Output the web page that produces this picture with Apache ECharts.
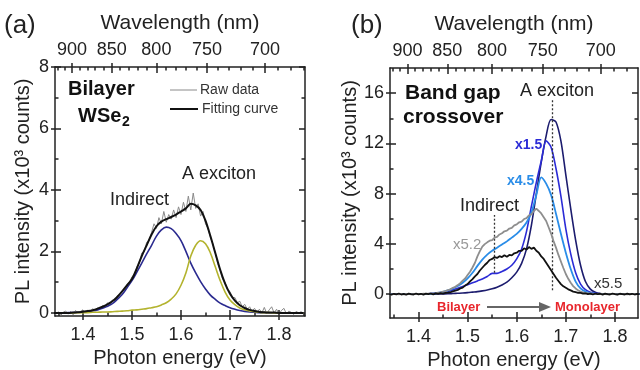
<!DOCTYPE html>
<html><head><meta charset="utf-8">
<script src="https://cdn.jsdelivr.net/npm/echarts@6/dist/echarts.min.js"></script>
<style>html,body{margin:0;padding:0;background:#fff}#c{width:640px;height:370px}</style>
</head><body><div id="c"></div>
<script>
const FONT = '"Liberation Sans", Arial, Helvetica, sans-serif';
const HC = 1239.84;

// ---- energy sampling (eV) ----
const eCoarse = [1.34,1.35,1.36,1.37,1.38,1.39,1.40,1.41,1.42,1.43,
  1.44,1.45,1.46,1.47,1.48,1.49,1.50,1.51,1.52,1.53,
  1.54,1.55,1.56,1.57,1.58,1.59,1.60,1.61,1.62,1.63,
  1.64,1.65,1.66,1.67,1.68,1.69,1.70,1.71,1.72,1.73,
  1.74,1.75,1.76,1.77,1.78,1.79,1.80,1.81,1.82,1.83,
  1.84,1.85];
const eFine = [1.340,1.345,1.350,1.355,1.360,1.365,1.370,1.375,1.380,1.385,
  1.390,1.395,1.400,1.405,1.410,1.415,1.420,1.425,1.430,1.435,
  1.440,1.445,1.450,1.455,1.460,1.465,1.470,1.475,1.480,1.485,
  1.490,1.495,1.500,1.505,1.510,1.515,1.520,1.525,1.530,1.535,
  1.540,1.545,1.550,1.555,1.560,1.565,1.570,1.575,1.580,1.585,
  1.590,1.595,1.600,1.605,1.610,1.615,1.620,1.625,1.630,1.635,
  1.640,1.645,1.650,1.655,1.660,1.665,1.670,1.675,1.680,1.685,
  1.690,1.695,1.700,1.705,1.710,1.715,1.720,1.725,1.730,1.735,
  1.740,1.745,1.750,1.755,1.760,1.765,1.770,1.775,1.780,1.785,
  1.790,1.795,1.800,1.805,1.810,1.815,1.820,1.825,1.830,1.835,
  1.840,1.845,1.850];

// ---- panel (a): bilayer WSe2 (x10^3 counts) ----
const aRaw = [0.02,-0.05,0.04,-0.08,0.03,0.06,-0.04,0.05,-0.06,0.08,
  0.0,0.05,0.1,0.02,0.09,0.04,0.14,0.06,0.17,0.12,
  0.24,0.2,0.33,0.28,0.42,0.4,0.56,0.6,0.72,0.78,
  0.95,1.0,1.18,1.25,1.5,1.62,1.95,1.98,2.3,2.35,
  2.62,2.9,2.75,3.1,2.9,3.3,2.95,3.2,3.05,3.35,
  3.1,3.45,3.2,3.6,3.3,3.8,3.35,3.9,3.4,3.55,
  3.15,3.3,2.9,2.75,2.45,2.25,1.95,1.6,1.4,1.1,
  1.0,0.75,0.7,0.5,0.5,0.33,0.38,0.2,0.28,0.12,
  0.2,0.05,0.15,0.02,0.12,0.0,0.18,-0.02,0.1,0.2,
  0.0,0.12,-0.04,0.08,0.15,-0.03,0.06,0.02,-0.05,0.05,
  0.0,0.04,-0.02];
const aFit = [0,0,0,0,0.01,0.02,0.04,0.06,0.09,0.14,
  0.2,0.28,0.38,0.52,0.7,0.9,1.1,1.45,1.85,2.2,
  2.55,2.82,2.97,3.05,3.12,3.2,3.3,3.4,3.55,3.5,
  3.35,3.0,2.5,1.95,1.4,0.95,0.62,0.4,0.25,0.16,
  0.1,0.06,0.03,0.02,0.01,0.01,0,0,0,0,
  0,0];
const aIndirect = [0,0,0,0.01,0.01,0.02,0.03,0.05,0.07,0.1,
  0.15,0.22,0.3,0.44,0.6,0.82,1.05,1.33,1.62,1.92,
  2.2,2.5,2.7,2.79,2.74,2.58,2.35,2.0,1.62,1.3,
  1.02,0.78,0.58,0.44,0.32,0.24,0.17,0.12,0.08,0.05,
  0.03,0.02,0.01,0.01,0,0,0,0,0,0,
  0,0];
const aExciton = [0,0,0,0,0,0.01,0.01,0.01,0.02,0.02,
  0.03,0.03,0.04,0.05,0.06,0.07,0.09,0.1,0.12,0.14,
  0.17,0.2,0.26,0.33,0.45,0.62,0.9,1.3,1.85,2.2,
  2.35,2.25,1.95,1.5,1.05,0.68,0.42,0.27,0.16,0.1,
  0.06,0.04,0.02,0.01,0.01,0,0,0,0,0,
  0,0];

// ---- panel (b): band gap crossover (scaled spectra) ----
const bMono = [0,0,0,0,0,0,0,0,0,0,
  0.01,0.02,0.03,0.05,0.07,0.09,0.12,0.16,0.2,0.26,
  0.33,0.42,0.55,0.72,0.95,1.3,1.75,2.45,3.6,5.5,
  8.0,10.5,12.6,13.9,13.7,12.2,9.5,6.8,4.3,2.3,
  1.0,0.4,0.15,0.05,0.02,0,0,0,0,0,
  0,0];
const bX15 = [0,0,0,0,0,0,0,0,0.03,0.06,
  0.1,0.16,0.24,0.34,0.46,0.6,0.75,0.9,1.05,1.2,
  1.4,1.65,1.65,1.8,2.0,2.3,2.8,3.6,5.0,7.0,
  8.9,10.6,12.2,11.7,10.0,7.8,5.2,3.2,1.7,0.8,
  0.35,0.15,0.06,0.02,0,0,0,0,0,0,
  0,0];
const bX45 = [0,0,0,0,0,0,0,0,0,0.04,
  0.1,0.18,0.3,0.45,0.65,0.9,1.25,1.7,2.25,2.75,
  3.15,3.45,3.7,3.95,4.2,4.5,4.8,5.2,5.7,6.5,
  7.9,9.3,8.8,7.9,6.4,4.8,3.3,2.0,1.0,0.45,
  0.2,0.08,0.03,0,0,0,0,0,0,0,
  0,0];
const bX52 = [0.01,-0.02,0.02,0,-0.01,0.02,-0.02,0.01,0.02,-0.01,
  0.01,0.0,0.02,0.0,0.03,0.02,0.04,0.05,0.06,0.08,
  0.12,0.14,0.2,0.24,0.32,0.38,0.5,0.58,0.72,0.88,
  1.08,1.25,1.52,1.78,2.12,2.5,3.0,3.42,3.78,3.98,
  4.12,4.25,4.3,4.5,4.55,4.75,4.85,5.0,5.05,5.22,
  5.28,5.48,5.55,5.72,5.78,5.98,6.05,6.28,6.35,6.62,
  6.8,6.62,6.42,6.12,5.82,5.32,4.82,4.22,3.7,3.12,
  2.6,2.08,1.6,1.22,0.9,0.64,0.45,0.3,0.2,0.14,
  0.1,0.07,0.05,0.03,0.02,0.01,0.02,0,0.01,-0.01,
  0.01,0,0.01,-0.01,0.01,0,0.01,-0.01,0.01,0,
  0.01,-0.01,0];
const bX55 = [0.02,-0.04,0.03,-0.02,0.05,-0.03,0.02,-0.05,0.04,0.0,
  -0.03,0.05,-0.02,0.03,-0.04,0.04,0.0,0.05,-0.02,0.06,
  0.02,0.08,0.04,0.1,0.12,0.15,0.22,0.28,0.34,0.45,
  0.52,0.68,0.8,1.02,1.2,1.42,1.6,1.88,2.1,2.32,
  2.5,2.72,2.8,2.95,2.88,3.02,2.95,3.1,2.98,3.12,
  3.08,3.25,3.3,3.45,3.45,3.65,3.55,3.75,3.6,3.7,
  3.45,3.3,3.0,2.8,2.5,2.2,1.9,1.6,1.3,1.05,
  0.8,0.62,0.5,0.38,0.3,0.2,0.15,0.1,0.1,0.04,
  0.06,0.0,0.04,-0.03,0.05,0.0,0.03,-0.04,0.04,0.0,
  -0.03,0.05,0.0,-0.04,0.03,0.0,-0.03,0.04,-0.02,0.03,
  -0.03,0.02,0.0];
// dotted guide lines in (b): [energy, from, to]
const indirectGuide = [1.555, 1.7, 6.3];
const excitonGuide = [1.673, 0.3, 15.6];

// ---- ticks ----
const energyTicks = [1.4,1.5,1.6,1.7,1.8];
const energyMinor = [1.35,1.45,1.55,1.65,1.75,1.85];
const wlTicks = [900,850,800,750,700];
const wlMinor = [920,910,890,880,870,860,840,830,820,810,790,780,770,760,740,730,720,710,690,680,670];
const yTicksA = [0,2,4,6,8], yMinorA = [1,3,5,7];
const yTicksB = [0,4,8,12,16], yMinorB = [2,6,10,14];

const pairs = (xs, ys) => xs.map((x, i) => [x, ys[i]]);
const AX = '#222';
const LS = {color: AX, width: 1.5};

function hAxes(g, min, max) {
  const wT = wlTicks.map(w => HC / w), wM = wlMinor.map(w => HC / w);
  const b = o => Object.assign({gridIndex: g, type: 'value', min, max, splitLine: {show: false},
    axisLabel: {show: false}, axisLine: {show: false, onZero: false}}, o);
  return [
    b({position: 'bottom', axisLine: {show: true, onZero: false, lineStyle: LS},
      axisTick: {show: true, inside: false, length: 4, customValues: energyTicks, lineStyle: LS},
      axisLabel: {show: true, customValues: energyTicks, formatter: v => v.toFixed(1), fontSize: 18, color: AX, fontFamily: FONT, margin: 10},
      name: 'Photon energy (eV)', nameLocation: 'middle', nameGap: 32,
      nameTextStyle: {fontSize: 20, color: AX, fontFamily: FONT}}),
    b({position: 'bottom', axisTick: {show: true, inside: true, length: 6, customValues: energyTicks, lineStyle: LS}}),
    b({position: 'bottom', axisTick: {show: true, inside: true, length: 3.5, customValues: energyMinor, lineStyle: LS}}),
    b({position: 'top', axisLine: {show: true, onZero: false, lineStyle: LS},
      axisTick: {show: true, inside: false, length: 4, customValues: wT, lineStyle: LS},
      axisLabel: {show: true, customValues: wT, formatter: v => String(Math.round(HC / v)), fontSize: 18, color: AX, fontFamily: FONT, margin: 8},
      name: 'Wavelength (nm)', nameLocation: 'middle', nameGap: 33,
      nameTextStyle: {fontSize: 21, color: AX, fontFamily: FONT}}),
    b({position: 'top', axisTick: {show: true, inside: true, length: 6, customValues: wT, lineStyle: LS}}),
    b({position: 'top', axisTick: {show: true, inside: true, length: 3.5, customValues: wM, lineStyle: LS}})
  ];
}
function vAxes(g, min, max, major, minor, gap) {
  const b = o => Object.assign({gridIndex: g, type: 'value', min, max, splitLine: {show: false},
    axisLabel: {show: false}, axisLine: {show: false, onZero: false}}, o);
  return [
    b({position: 'left', axisLine: {show: true, onZero: false, lineStyle: LS},
      axisTick: {show: true, inside: false, length: 4, customValues: major, lineStyle: LS},
      axisLabel: {show: true, customValues: major, fontSize: 18, color: AX, fontFamily: FONT, margin: 6},
      name: 'PL intensity (x10³ counts)', nameLocation: 'middle', nameGap: gap,
      nameTextStyle: {fontSize: 20, color: AX, fontFamily: FONT}}),
    b({position: 'left', axisTick: {show: true, inside: true, length: 6, customValues: major, lineStyle: LS}}),
    b({position: 'left', axisTick: {show: true, inside: true, length: 3.5, customValues: minor, lineStyle: LS}}),
    b({position: 'right', axisLine: {show: true, onZero: false, lineStyle: LS},
      axisTick: {show: true, inside: true, length: 6, customValues: major, lineStyle: LS}}),
    b({position: 'right', axisTick: {show: true, inside: true, length: 3.5, customValues: minor, lineStyle: LS}})
  ];
}

const line = (g, xs, ys, color, width, smooth, z, extra) => Object.assign({
  type: 'line', xAxisIndex: g * 6, yAxisIndex: g * 5, data: pairs(xs, ys),
  showSymbol: false, symbol: 'none', smooth: smooth, lineStyle: {color, width}, itemStyle: {color},
  z: z, animation: false, clip: true}, extra || {});

const guideLine = gd => [{coord: [gd[0], gd[1]]}, {coord: [gd[0], gd[2]]}];

const T = (text, x, y, size, opt) => Object.assign({type: 'text', x, y, z: 100,
  style: Object.assign({text, fontSize: size, fontFamily: FONT, fill: AX, align: 'left', verticalAlign: 'middle',
    textAlign: 'left', textVerticalAlign: 'middle'}, opt || {})});

const chart = echarts.init(document.getElementById('c'), null, {renderer: 'canvas'});
chart.setOption({
  animation: false,
  backgroundColor: '#fff',
  grid: [
    {left: 55, top: 67, width: 250, height: 249, outerBoundsMode: 'none', containLabel: false},
    {left: 390, top: 68, width: 248, height: 250, outerBoundsMode: 'none', containLabel: false}
  ],
  xAxis: hAxes(0, 1.343, 1.853).concat(hAxes(1, 1.342, 1.847)),
  yAxis: vAxes(0, -0.1, 8, yTicksA, yMinorA, 22).concat(vAxes(1, -1.9, 18, yTicksB, yMinorB, 24)),
  series: [
    line(0, eFine, aRaw, '#8a8a8a', 1, false, 2),
    line(0, eCoarse, aIndirect, '#2a2a8f', 1.6, 0.4, 3),
    line(0, eCoarse, aExciton, '#b3b32e', 1.6, 0.4, 3),
    line(0, eCoarse, aFit, '#111111', 2, 0.3, 4),
    line(1, eCoarse, bMono, '#1c1c6e', 1.6, 0.3, 2),
    line(1, eCoarse, bX15, '#2b2bd6', 1.6, 0.3, 3),
    line(1, eCoarse, bX45, '#2a8de8', 1.8, 0.3, 4),
    line(1, eFine, bX52, '#8e8e8e', 1.8, false, 5),
    line(1, eFine, bX55, '#111111', 1.8, false, 6, {
      markLine: {silent: true, symbol: 'none', animation: false, label: {show: false},
        lineStyle: {color: '#333', width: 1.3, type: [2, 2]},
        data: [guideLine(indirectGuide), guideLine(excitonGuide)]}
    })
  ],
  graphic: [
    T('(a)', 4, 26, 26),
    T('(b)', 351, 26, 26),
    T('Bilayer', 68, 89, 20, {fontWeight: 'bold', fill: '#111'}),
    T('WSe', 78, 116, 20, {fontWeight: 'bold', fill: '#111'}),
    T('2', 122, 122, 14, {fontWeight: 'bold', fill: '#111'}),
    {type: 'line', z: 100, shape: {x1: 170, y1: 90, x2: 197, y2: 90}, style: {stroke: '#8a8a8a', lineWidth: 1}},
    {type: 'line', z: 100, shape: {x1: 170, y1: 109, x2: 198, y2: 109}, style: {stroke: '#111', lineWidth: 2}},
    T('Raw data', 200, 90, 14, {fill: '#333'}),
    T('Fitting curve', 202, 109, 14, {fill: '#333'}),
    T('A exciton', 182, 174, 18),
    T('Indirect', 110, 200, 18),
    T('Band gap', 405, 93, 21, {fontWeight: 'bold', fill: '#111'}),
    T('crossover', 403, 117, 21, {fontWeight: 'bold', fill: '#111'}),
    T('A exciton', 520, 91, 18),
    T('x1.5', 515, 145, 14, {fontWeight: 'bold', fill: '#2b2bd6'}),
    T('x4.5', 507, 181, 14, {fontWeight: 'bold', fill: '#2a8de8'}),
    T('Indirect', 460, 206, 18),
    T('x5.2', 453, 245, 15, {fill: '#999'}),
    T('x5.5', 594, 284, 15, {fill: '#333'}),
    T('Bilayer', 437, 307, 13, {fontWeight: 'bold', fill: '#e8262c'}),
    T('Monolayer', 555, 307, 13, {fontWeight: 'bold', fill: '#e8262c'}),
    {type: 'line', z: 100, shape: {x1: 487, y1: 307, x2: 541, y2: 307}, style: {stroke: '#666', lineWidth: 2}},
    {type: 'polygon', z: 100, shape: {points: [[539, 302], [551, 307], [539, 312]]}, style: {fill: '#666'}}
  ]
});
</script>
</body></html>
